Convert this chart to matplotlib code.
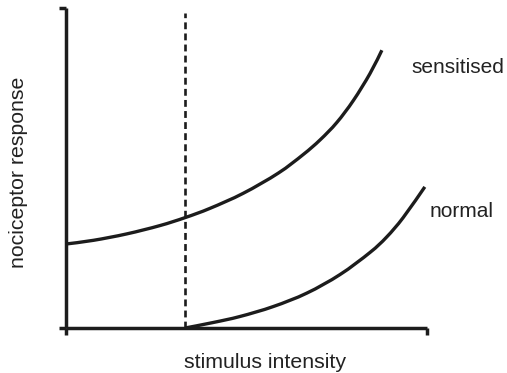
import matplotlib
matplotlib.use("Agg")
import matplotlib.pyplot as plt
from matplotlib.path import Path
from matplotlib.patches import PathPatch

plt.rcParams['font.family'] = ['Liberation Sans', 'DejaVu Sans']

# Stimulus intensity (arbitrary units, 0-100) and responses
sens_x = [0, 7.6, 16.8, 26.0, 33.0, 39.9, 49.1, 58.8, 65.7, 70.4, 75.0, 79.6, 84.2, 87.5]
sens_y = [26.25, 27.4, 29.4, 32.0, 34.5, 37.4, 42.1, 48.4, 54.2, 58.8, 64.2, 71.1, 79.5, 86.8]

norm_x = [33.0, 40.7, 48.2, 57.4, 66.7, 75.9, 84.2, 88.8, 93.4, 99.4]
norm_y = [0.0, 1.7, 3.6, 6.7, 10.9, 16.7, 23.6, 28.4, 34.5, 44.1]

threshold_x = 33.0
threshold_top = 98.4

curve_labels = ["sensitised", "normal"]
label_pos = [(95.8, 79.8), (100.8, 34.8)]

ink = "#1c1c1c"
text_col = "#222222"


def smooth_path(xs, ys):
    """Catmull-Rom curve through the points, built from cubic Bezier segments."""
    pts = list(zip(xs, ys))
    ext = [pts[0]] + pts + [pts[-1]]
    verts = [pts[0]]
    codes = [Path.MOVETO]
    for i in range(1, len(ext) - 2):
        p0, p1, p2, p3 = ext[i - 1], ext[i], ext[i + 1], ext[i + 2]
        c1 = (p1[0] + (p2[0] - p0[0]) / 6, p1[1] + (p2[1] - p0[1]) / 6)
        c2 = (p2[0] - (p3[0] - p1[0]) / 6, p2[1] - (p3[1] - p1[1]) / 6)
        verts += [c1, c2, p2]
        codes += [Path.CURVE4] * 3
    return Path(verts, codes)


W, H = 507, 373
fig = plt.figure(figsize=(W / 100, H / 100), dpi=100)
ax = fig.add_axes([66 / W, (H - 328) / H, (427 - 66) / W, (328 - 8) / H])

for xs, ys in ((sens_x, sens_y), (norm_x, norm_y)):
    ax.add_patch(PathPatch(smooth_path(xs, ys), fill=False, edgecolor=ink,
                           lw=2.4, capstyle='butt', joinstyle='round'))
ax.vlines(threshold_x, 0, threshold_top, colors=ink, linewidth=1.9,
          linestyles=(0, (2.6, 1.6)))

ax.set_xlim(0, 100)
ax.set_ylim(0, 100)
for side in ("top", "right"):
    ax.spines[side].set_visible(False)
for side in ("left", "bottom"):
    ax.spines[side].set_linewidth(2.5)
    ax.spines[side].set_color(ink)
    ax.spines[side].set_capstyle('butt')

ax.set_xticks([0, 100])
ax.set_yticks([0, 100])
ax.tick_params(direction='out', length=5, width=2.5, color=ink,
               labelbottom=False, labelleft=False)

for lab, (lx, ly) in zip(curve_labels, label_pos):
    ax.text(lx, ly, lab, fontsize=15, color=text_col, ha='left', va='baseline',
            clip_on=False)

fig.text(264.5 / W, (H - 368) / H, "stimulus intensity", fontsize=15.3,
         color=text_col, ha='center', va='baseline')
fig.text(19 / W, (H - 172) / H, "nociceptor response", fontsize=15.3,
         color=text_col, ha='center', va='center', rotation=90)

fig.savefig("out.png", dpi=100, facecolor="white")
